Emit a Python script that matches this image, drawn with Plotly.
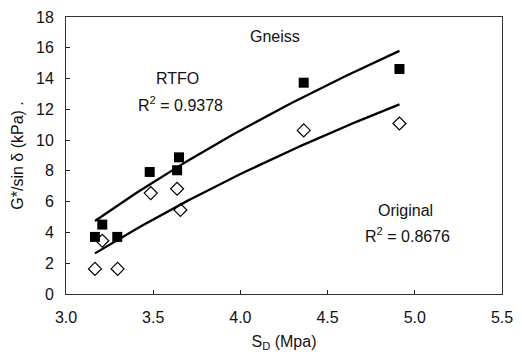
import numpy as np
import plotly.graph_objects as go

# Data
sd_rtfo = [3.166, 3.208, 3.294, 3.48, 3.637, 3.648, 4.363, 4.912]
g_rtfo = [3.71, 4.51, 3.71, 7.93, 8.04, 8.88, 13.73, 14.62]

sd_orig = [3.166, 3.208, 3.296, 3.486, 3.637, 3.656, 4.363, 4.912]
g_orig = [1.63, 3.46, 1.63, 6.56, 6.84, 5.46, 10.63, 11.08]

# Logarithmic trend lines y = a + b*ln(x), coefficients
trend_rtfo = (-24.25, 25.16)
trend_orig = (-22.76, 22.04)

x_ticks = [3.0, 3.5, 4.0, 4.5, 5.0, 5.5]
y_ticks = [0, 2, 4, 6, 8, 10, 12, 14, 16, 18]

font = "Liberation Sans, Arial, sans-serif"
FS = 16

fig = go.Figure()

def trend(xs, coef):
    xx = np.linspace(min(xs), max(xs), 60)
    return xx, coef[0] + coef[1] * np.log(xx)

for xs, coef in [(sd_rtfo, trend_rtfo), (sd_orig, trend_orig)]:
    tx, ty = trend(xs, coef)
    fig.add_trace(go.Scatter(x=tx, y=ty, mode="lines",
                             line=dict(color="black", width=2.3),
                             showlegend=False, hoverinfo="skip"))

fig.add_trace(go.Scatter(x=sd_rtfo, y=g_rtfo, mode="markers",
                         marker=dict(symbol="square", size=10, color="black",
                                     line=dict(width=0)),
                         showlegend=False))
fig.add_trace(go.Scatter(x=sd_orig, y=g_orig, mode="markers",
                         marker=dict(symbol="diamond-open", size=10, color="black",
                                     line=dict(width=1.2)),
                         showlegend=False))

annots = [
    dict(x=275, y=29, text="Gneiss"),
    dict(x=178, y=72, text="RTFO"),
    dict(x=181, y=98, text="R<sup>2</sup> = 0.9378"),
    dict(x=406, y=208, text="Original"),
    dict(x=408, y=233, text="R<sup>2</sup> = 0.8676"),
]
W, H = 522, 358
L, R, T, B = 66, 19, 9, 64
pw, ph = W - L - R, H - T - B
for a in annots:
    fig.add_annotation(x=(a["x"] - L) / pw, y=1 - (a["y"] - T) / ph,
                       xref="paper", yref="paper", text=a["text"],
                       showarrow=False, font=dict(family=font, size=FS, color="#111"),
                       xanchor="center", yanchor="middle")

fig.update_layout(
    width=W, height=H,
    margin=dict(l=L, r=R, t=T, b=B),
    paper_bgcolor="white", plot_bgcolor="white",
    font=dict(family=font, size=FS, color="#111"),
    xaxis=dict(range=[3.0, 5.5], tickvals=x_ticks, tickformat=".1f",
               ticks="inside", ticklen=4, tickcolor="#222",
               ticklabelstandoff=9,
               showgrid=False, zeroline=False,
               showline=True, linecolor="#333", linewidth=1, mirror=True,
               title=dict(text="S<sub>D</sub> (Mpa)", standoff=10,
                          font=dict(family=font, size=FS))),
    yaxis=dict(range=[0, 18], tickvals=y_ticks,
               ticks="inside", ticklen=4, tickcolor="#222",
               ticklabelstandoff=8,
               showgrid=False, zeroline=False,
               showline=True, linecolor="#333", linewidth=1, mirror=True,
               title=dict(text="G*/sin δ (kPa) .", standoff=8,
                          font=dict(family=font, size=FS))),
)

fig.write_html("out.html")
